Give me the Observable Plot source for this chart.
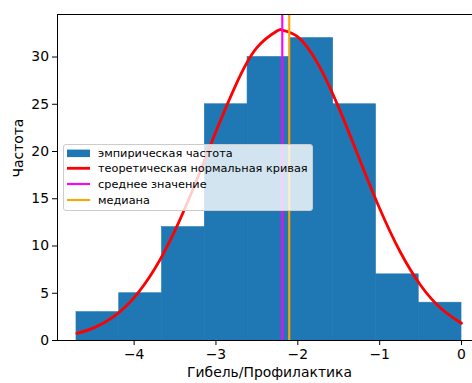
<!DOCTYPE html>
<html><head><meta charset="utf-8">
<script src="https://cdn.jsdelivr.net/npm/d3@7"></script>
<script src="https://cdn.jsdelivr.net/npm/@observablehq/plot@0.6"></script>
<style>
body{margin:0;overflow:hidden;background:#fff;}
#wrap{position:relative;width:472px;height:383px;overflow:hidden;font-family:"DejaVu Sans";}
#wrap svg.plot{display:block;}
.legend{position:absolute;left:63px;top:144px;width:250px;height:67px;box-sizing:border-box;background:rgba(255,255,255,0.8);border:1px solid #cccccc;border-radius:3px;}
.legend svg{position:absolute;left:-1px;top:-1px;}
</style></head><body><div id="wrap"></div>
<script>
// histogram bins (edges) and counts
const binEdges = [-4.704, -4.182, -3.659, -3.136, -2.614, -2.091, -1.568, -1.045, -0.523, 0];
const counts = [3, 5, 12, 25, 30, 32, 25, 7, 4];
// theoretical normal curve
const curveX = [-4.70, -4.5, -4.25, -4.0, -3.75, -3.5, -3.25, -3.0, -2.75, -2.5, -2.25, -2.19, -2.0, -1.75, -1.5, -1.25, -1.0, -0.75, -0.5, -0.25, 0];
const curveY = [0.76, 1.31, 2.53, 4.54, 7.56, 11.66, 16.67, 22.11, 27.19, 31.0, 32.78, 32.85, 32.14, 29.22, 24.64, 19.27, 13.97, 9.39, 5.85, 3.39, 1.82];
const meanValue = -2.19;
const medianValue = -2.105;
const xTicks = [-4, -3, -2, -1, 0];
const yTicks = [0, 5, 10, 15, 20, 25, 30];
const legendLabels = ["эмпирическая частота", "теоретическая нормальная кривая", "среднее значение", "медиана"];
const colors = {bar: "#1f77b4", curve: "#ff0000", mean: "#ff00ff", median: "#ffa500"};

const bins = counts.map((c, i) => ({x1: binEdges[i], x2: binEdges[i + 1], y: c}));
const curve = curveX.map((x, i) => ({x, y: curveY[i]}));
const intFmt = d3.format("d");

const chart = Plot.plot({
  width: 472, height: 383,
  marginLeft: 57, marginRight: -9, marginTop: 14, marginBottom: 43,
  style: {fontFamily: "DejaVu Sans", fontSize: "13.9px", color: "#000", background: "#fff"},
  x: {domain: [-4.936, 0.244]},
  y: {domain: [0, 34.5]},
  marks: [
    Plot.rectY(bins, {x1: "x1", x2: "x2", y: "y", fill: colors.bar, stroke: colors.bar, strokeWidth: 0.6, inset: 0}),
    Plot.line(curve, {x: "x", y: "y", stroke: colors.curve, strokeWidth: 2.8, curve: "natural"}),
    Plot.ruleX([meanValue], {stroke: colors.mean, strokeWidth: 2.1}),
    Plot.ruleX([medianValue], {stroke: colors.median, strokeWidth: 2.1}),
    Plot.frame({stroke: "#000", strokeWidth: 1}),
    Plot.axisX({ticks: xTicks, tickFormat: intFmt, tickSize: 5, tickPadding: 4, label: null}),
    Plot.axisY({ticks: yTicks, tickFormat: intFmt, tickSize: 5, tickPadding: 3.5, label: null}),
    Plot.text(["Гибель/Профилактика"], {text: d => d, frameAnchor: "bottom", dy: 36}),
    Plot.text(["Частота"], {text: d => d, frameAnchor: "left", rotate: -90, dx: -39})
  ]
});
const wrap = document.getElementById("wrap");
wrap.appendChild(chart);

// legend overlay
const leg = document.createElement("div");
leg.className = "legend";
const rows = [9.3, 24.3, 40, 56];
let s = `<svg width="250" height="67" xmlns="http://www.w3.org/2000/svg" style="font-family:'DejaVu Sans';font-size:11.3px">`;
s += `<rect x="4" y="${rows[0] - 3.7}" width="23" height="7.5" fill="${colors.bar}"/>`;
s += `<line x1="4" x2="27" y1="${rows[1]}" y2="${rows[1]}" stroke="${colors.curve}" stroke-width="2.8"/>`;
s += `<line x1="4" x2="27" y1="${rows[2]}" y2="${rows[2]}" stroke="${colors.mean}" stroke-width="2.1"/>`;
s += `<line x1="4" x2="27" y1="${rows[3]}" y2="${rows[3]}" stroke="${colors.median}" stroke-width="2.1"/>`;
legendLabels.forEach((t, i) => { s += `<text x="35" y="${rows[i] + 3.5}" fill="#000">${t}</text>`; });
s += `</svg>`;
leg.innerHTML = s;
wrap.appendChild(leg);
</script></body></html>
